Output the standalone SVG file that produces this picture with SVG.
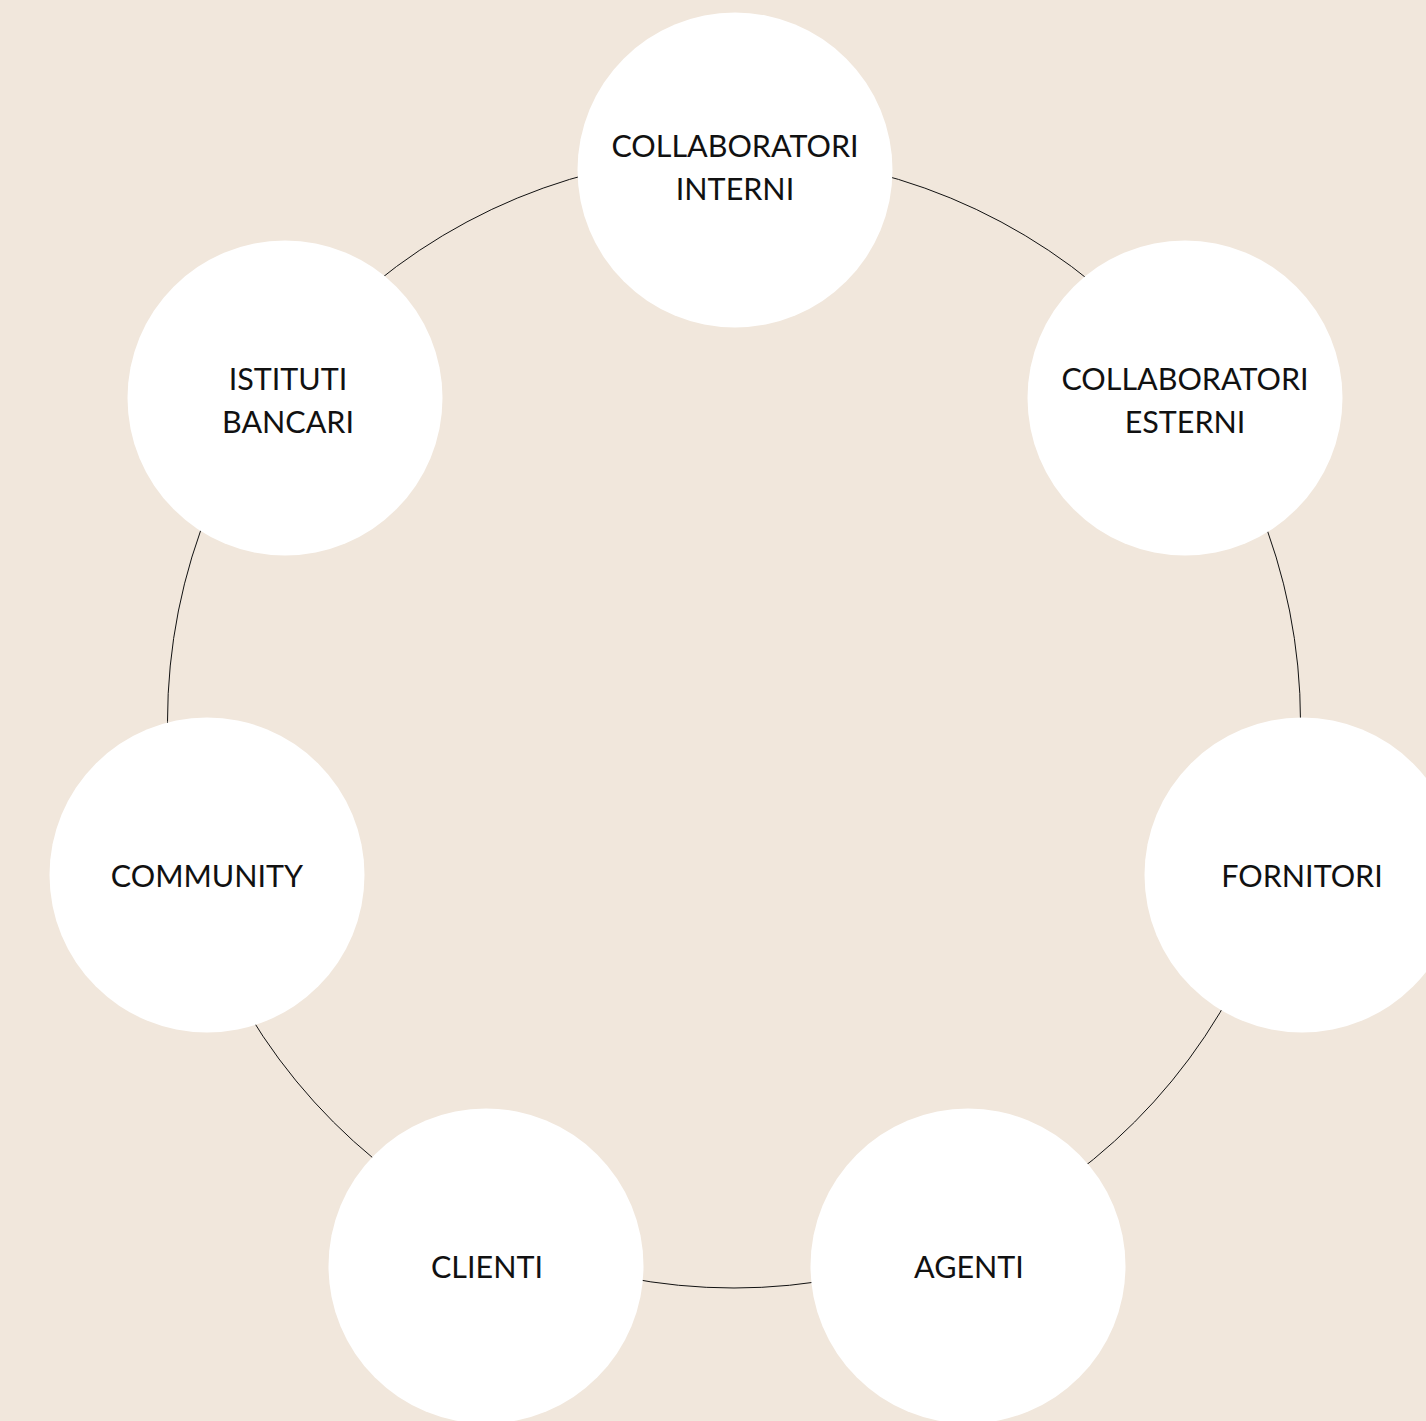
<svg xmlns="http://www.w3.org/2000/svg" width="1426" height="1421" viewBox="0 0 1426 1421">
<style>
.node circle{fill:#ffffff}
.node text{font-family:Lato,"Open Sans",sans-serif;font-size:30.5px;fill:#111111;text-anchor:middle}
.ring{fill:none;stroke:#111111;stroke-width:1}
</style>
<rect width="1426" height="1421" fill="#F1E7DC"/>
<g id="connectors">
<circle class="ring" cx="734" cy="721.5" r="566.5"/>
</g>
<g id="n-collab-interni" class="node"><circle cx="735" cy="170" r="157.5"/><text x="735" y="157">COLLABORATORI</text><text x="735" y="200">INTERNI</text></g>
<g id="n-collab-esterni" class="node"><circle cx="1185" cy="398" r="157.5"/><text x="1185" y="390">COLLABORATORI</text><text x="1185" y="433">ESTERNI</text></g>
<g id="n-istituti" class="node"><circle cx="285" cy="398" r="157.5"/><text x="288" y="390">ISTITUTI</text><text x="288" y="433">BANCARI</text></g>
<g id="n-community" class="node"><circle cx="207" cy="875" r="157.5"/><text x="207" y="887">COMMUNITY</text></g>
<g id="n-fornitori" class="node"><circle cx="1302" cy="875" r="157.5"/><text x="1302" y="887">FORNITORI</text></g>
<g id="n-clienti" class="node"><circle cx="486" cy="1266" r="157.5"/><text x="487" y="1278">CLIENTI</text></g>
<g id="n-agenti" class="node"><circle cx="968" cy="1266" r="157.5"/><text x="969" y="1278">AGENTI</text></g>
</svg>
